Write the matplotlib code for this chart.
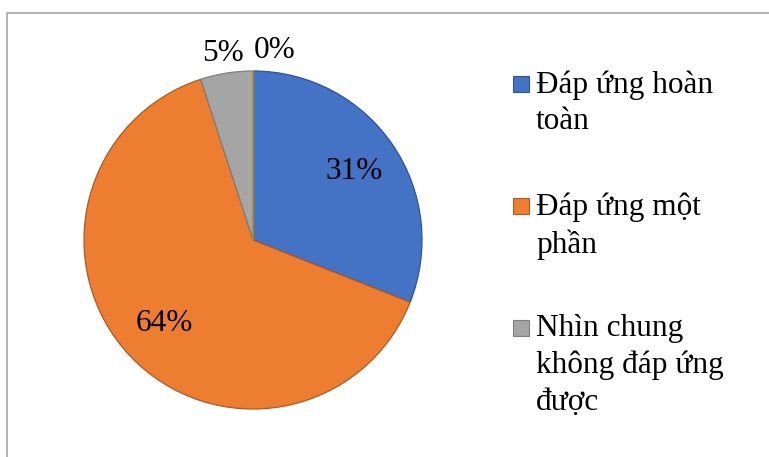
import matplotlib.pyplot as plt
import matplotlib.patches as mpatches
import numpy as np

# dữ liệu biểu đồ tròn
nhom = ["Đáp ứng hoàn\ntoàn", "Đáp ứng một\nphần", "Nhìn chung\nkhông đáp ứng\nđược", ""]
phan_tram = [31, 64, 5, 0]
mau = ["#4472C4", "#ED7D31", "#A5A5A5", "#FFC000"]
mau_vien = ["#2F5597", "#AE5A21", "#7F7F7F", "#BF9000"]

plt.rcParams['font.family'] = ['Liberation Serif', 'DejaVu Serif']

W, H = 769, 457
fig = plt.figure(figsize=(W / 100, H / 100), dpi=100)

# khung ngoài của biểu đồ
fig.patches.append(mpatches.Rectangle((6.5 / W, -0.1), 1.2, 1.1 - 13.5 / H,
                                      transform=fig.transFigure, fill=False,
                                      edgecolor="#A6A6A6", linewidth=1.2))

cx, cy, r = 253, 240, 169
ax = fig.add_axes([(cx - r) / W, (H - cy - r) / H, 2 * r / W, 2 * r / H])

wedges, _ = ax.pie(phan_tram, colors=mau, startangle=90, counterclock=False,
                   radius=1.0, wedgeprops=dict(linewidth=0.9))
for w, c in zip(wedges, mau_vien):
    w.set_edgecolor(c)

tong = sum(phan_tram)
goc = 90.0
for i, v in enumerate(phan_tram):
    giua = goc - v / tong * 360 / 2
    goc -= v / tong * 360
    if v >= 10:
        d = 0.72
        dx = 0
    else:
        d = 1.12
        dx = 0.13 if v == 0 else 0
    t = np.deg2rad(giua)
    ax.text(d * np.cos(t) + dx, d * np.sin(t), "%d%%" % v,
            ha="center", va="center", fontsize=22.5)

ax.set_xlim(-1, 1)
ax.set_ylim(-1, 1)
ax.set_aspect("equal")
ax.axis("off")

# chú thích
y0 = 93
buoc = 122
for i in range(3):
    yb = y0 + i * buoc
    fig.patches.append(mpatches.Rectangle((513 / W, 1 - (yb - 1) / H), 16 / W, 16 / H,
                                          transform=fig.transFigure,
                                          facecolor=mau[i], edgecolor=mau_vien[i],
                                          linewidth=0.8))
    fig.text(536 / W, 1 - (yb - 23) / H, nhom[i], ha="left", va="top",
             fontsize=22.5, linespacing=1.35)

fig.savefig("out.png", dpi=100)
